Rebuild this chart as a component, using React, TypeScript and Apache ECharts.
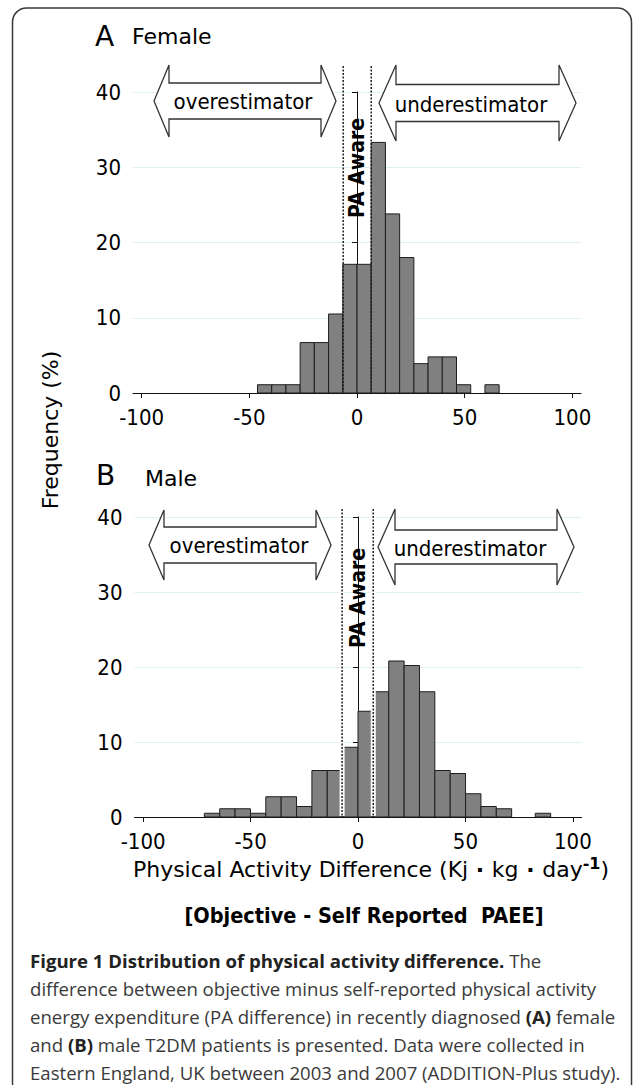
import React, { useEffect, useRef } from "react";
import * as echarts from "echarts";

// ---- data ----
const xTickValues = [-100, -50, 0, 50, 100];

const femaleBinWidth = 6.6;
const femaleBinLeft = [-46.2, -39.6, -33, -26.4, -19.8, -13.2, -6.6, 0, 6.6, 13.2, 19.8, 26.4, 33, 39.6, 46.2, 59.4];
const femaleFreq = [1.1, 1.1, 1.1, 6.7, 6.7, 10.5, 17.1, 17.1, 33.3, 23.8, 18.0, 3.9, 4.8, 4.8, 1.1, 1.1];

const maleBinWidth = 7.15;
const maleBinLeft = [-71.5, -64.35, -57.2, -50.05, -42.9, -35.75, -28.6, -21.45, -14.3, -7.15, 0, 7.15, 14.3, 21.45, 28.6, 35.75, 42.9, 50.05, 57.2, 64.35, 82.5];
const maleFreq = [0.5, 1.1, 1.1, 0.5, 2.7, 2.7, 1.4, 6.2, 6.2, 9.3, 14.1, 16.7, 20.8, 20.2, 16.7, 6.2, 5.8, 3.1, 1.4, 1.1, 0.5];

const femaleAwareBounds = [-6.4, 6.6];
const maleAwareBounds = [-7.4, 7.1];

const captionLines = [
  "{b|Figure 1 Distribution of physical activity difference.}{n| The}",
  "{n|difference between objective minus self-reported physical activity}",
  "{n|energy expenditure (PA difference) in recently diagnosed }{b|(A)}{n| female}",
  "{n|and }{b|(B)}{n| male T2DM patients is presented. Data were collected in}",
  "{n|Eastern England, UK between 2003 and 2007 (ADDITION-Plus study).}",
];

const FONT = '"DejaVu Sans Condensed", "DejaVu Sans", sans-serif';
const FONT2 = '"DejaVu Sans", sans-serif';
const CAP = '"Open Sans", "Noto Sans", sans-serif';

function makeBars(left: number[], width: number, freq: number[]) {
  return left.map((l, i) => [l, l + width, freq[i]]);
}

const renderBar = (_p: any, api: any) => {
  const x0 = api.value(0);
  const x1 = api.value(1);
  const y = api.value(2);
  const a = api.coord([x0, y]);
  const b = api.coord([x1, 0]);
  return {
    type: "rect",
    shape: { x: a[0], y: a[1], width: b[0] - a[0], height: b[1] - a[1] },
    style: { fill: "#808080", stroke: "#1e1e1e", lineWidth: 1 },
  };
};

function arrow(x1: number, x2: number, cy: number, bh: number, hh: number, hl: number) {
  return {
    type: "polygon",
    shape: {
      points: [
        [x1, cy],
        [x1 + hl, cy - hh],
        [x1 + hl, cy - bh],
        [x2 - hl, cy - bh],
        [x2 - hl, cy - hh],
        [x2, cy],
        [x2 - hl, cy + hh],
        [x2 - hl, cy + bh],
        [x1 + hl, cy + bh],
        [x1 + hl, cy + hh],
      ],
    },
    style: { fill: "#ffffff", stroke: "#333333", lineWidth: 1.3 },
    z: 10,
  };
}

function txt(text: string, x: number, y: number, size: number, opts: any = {}) {
  return {
    type: "text",
    x,
    y,
    rotation: opts.rotation || 0,
    z: 20,
    style: {
      text,
      x: 0,
      y: 0,
      fontSize: size,
      fontFamily: opts.family || FONT,
      fontWeight: opts.weight || "normal",
      fill: opts.fill || "#000",
      align: opts.align || "center",
      verticalAlign: opts.valign || "middle",
      textAlign: opts.align || "center",
      textVerticalAlign: opts.valign || "middle",
      rich: opts.rich,
    },
  };
}

const xAxisBase = {
  type: "value",
  min: -104,
  max: 104,
  axisLine: { show: true, onZero: false, lineStyle: { color: "#111", width: 1 } },
  axisTick: { show: true, length: 5, customValues: xTickValues, lineStyle: { color: "#111" } },
  axisLabel: { customValues: xTickValues, fontSize: 22, fontFamily: FONT, color: "#000", margin: 13 },
  splitLine: { show: false },
};

const yAxisBase = {
  type: "value",
  min: 0,
  max: 40,
  interval: 10,
  axisLine: { show: true, lineStyle: { color: "#111", width: 1 } },
  axisTick: { show: true, length: 5, lineStyle: { color: "#111" } },
  axisLabel: { fontSize: 22, fontFamily: FONT, color: "#000", margin: 12 },
  splitLine: { show: true, lineStyle: { color: "#dcf2f2", width: 1 } },
};

export default function App() {
  const ref = useRef<HTMLDivElement>(null);
  useEffect(() => {
    if (!ref.current) return;
    const chart = echarts.init(ref.current, null, { renderer: "svg" });
    const option: any = {
      animation: false,
      backgroundColor: "#ffffff",
      grid: [
        { left: 133, right: 52, top: 92, bottom: 1085 - 393 },
        { left: 134.5, right: 51.5, top: 517, bottom: 1085 - 817 },
      ],
      xAxis: [
        { ...xAxisBase, gridIndex: 0 },
        { ...xAxisBase, gridIndex: 1 },
      ],
      yAxis: [
        { ...yAxisBase, gridIndex: 0 },
        { ...yAxisBase, gridIndex: 1 },
      ],
      series: [
        {
          type: "custom",
          xAxisIndex: 0,
          yAxisIndex: 0,
          renderItem: renderBar,
          encode: { x: [0, 1], y: 2 },
          data: makeBars(femaleBinLeft, femaleBinWidth, femaleFreq),
          z: 5,
        },
        {
          type: "custom",
          xAxisIndex: 1,
          yAxisIndex: 1,
          renderItem: renderBar,
          encode: { x: [0, 1], y: 2 },
          data: makeBars(maleBinLeft, maleBinWidth, maleFreq),
          z: 5,
        },
      ],
    };
    chart.setOption(option);

    const fx = femaleAwareBounds.map((v) => chart.convertToPixel({ xAxisIndex: 0 }, v) as number);
    const mx = maleAwareBounds.map((v) => chart.convertToPixel({ xAxisIndex: 1 }, v) as number);

    const dotted = (x: number, y1: number, y2: number) => ({
      type: "line",
      z: 12,
      shape: { x1: x, y1, x2: x, y2 },
      style: { stroke: "#222", lineWidth: 1.5, lineDash: [2, 1.5] },
    });
    const band = (x: number, y1: number, y2: number) => ({
      type: "line",
      z: 11,
      shape: { x1: x, y1, x2: x, y2 },
      style: { stroke: "#fff", lineWidth: 5 },
    });

    chart.setOption({
      graphic: [
        {
          type: "rect",
          shape: { x: 12.5, y: 8, width: 619, height: 1100, r: 14 },
          style: { fill: "none", stroke: "#3a3a3a", lineWidth: 1.5 },
          z: 1,
        },
        // panel labels
        txt("A", 95, 50, 28, { family: FONT2, align: "left", valign: "bottom" }),
        txt("Female", 132, 47, 22, { family: FONT2, align: "left", valign: "bottom" }),
        txt("B", 96, 489, 28, { family: FONT2, align: "left", valign: "bottom" }),
        txt("Male", 145, 489, 22, { family: FONT2, align: "left", valign: "bottom" }),
        // y title
        txt("Frequency (%)", 50, 430, 22, { family: FONT2, rotation: Math.PI / 2 }),
        // dotted lines
        band(mx[0], 509, 816),
        band(mx[1], 509, 816),
        dotted(fx[0], 66, 392),
        dotted(fx[1], 66, 392),
        dotted(mx[0], 509, 816),
        dotted(mx[1], 509, 816),
        txt("PA Aware", 357, 168, 21, { rotation: Math.PI / 2, weight: "bold" }),
        txt("PA Aware", 358, 598, 21, { rotation: Math.PI / 2, weight: "bold" }),
        // arrows
        arrow(154, 336, 101, 18, 36, 15),
        arrow(379, 576, 103, 18.5, 38, 17),
        arrow(149, 331, 545, 18, 35, 15),
        arrow(378, 574, 547, 17, 38, 17),
        txt("overestimator", 243, 101, 22),
        txt("underestimator", 471, 104, 22),
        txt("overestimator", 239, 545, 22),
        txt("underestimator", 470, 548, 22),
        // axis title
        txt("{m|Physical Activity Difference (Kj}{d| · }{m|kg}{d| · }{m|day}{s|-1}{m|)}", 371, 868, 22, {
          rich: {
            m: { fontSize: 22, fontFamily: FONT2, fill: "#000", lineHeight: 25, verticalAlign: "bottom" },
            d: { fontSize: 22, fontFamily: FONT2, fontWeight: "bold", fill: "#000", lineHeight: 25, verticalAlign: "bottom" },
            s: { fontSize: 16, fontFamily: FONT2, fontWeight: "bold", fill: "#000", lineHeight: 25, verticalAlign: "top" },
          },
        }),
        txt("[Objective - Self Reported  PAEE]", 364, 915, 21.5, { weight: "bold" }),
        // caption
        ...captionLines.map((line, i) =>
          txt(line, 30, 960 + i * 28, 18.6, {
            family: CAP,
            align: "left",
            rich: {
              b: { fontSize: 18.6, fontFamily: CAP, fontWeight: "bold", fill: "#222" },
              n: { fontSize: 18.6, fontFamily: CAP, fill: "#3a3a3a" },
            },
          })
        ),
      ],
    });

    return () => chart.dispose();
  }, []);
  return (
    <div
      ref={ref}
      style={{ position: "absolute", left: 0, top: 0, width: 633, height: 1085, background: "#fff" }}
    />
  );
}
